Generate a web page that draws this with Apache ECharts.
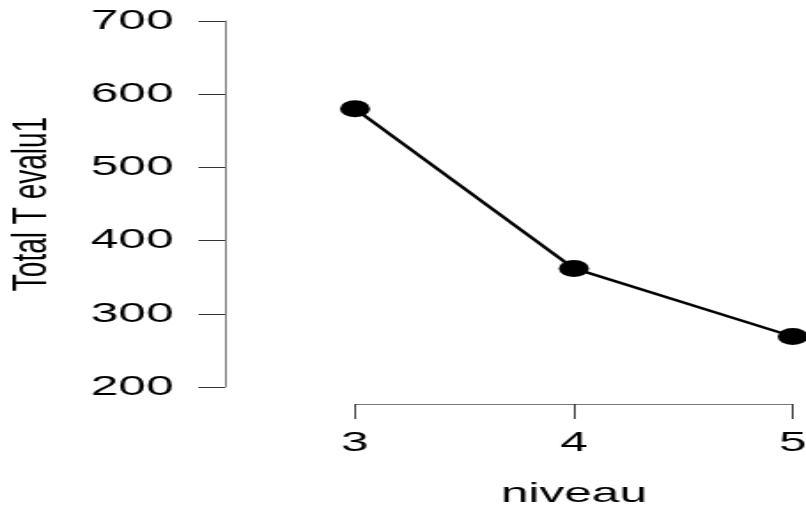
<!DOCTYPE html>
<html>
<head>
<meta charset="utf-8">
<script src="https://cdn.jsdelivr.net/npm/echarts@6/dist/echarts.min.js"></script>
<style>
html,body{margin:0;padding:0;background:#fff;overflow:hidden;}
#wrap{width:806px;height:511px;overflow:hidden;}
#c{width:455px;height:511px;transform:scaleX(1.7714);transform-origin:0 0;}
</style>
</head>
<body>
<div id="wrap"><div id="c"></div></div>
<script>
var niveau = [3, 4, 5];
var totalT = [580, 362, 269];
var yTicks = [200, 300, 400, 500, 600, 700];

var chart = echarts.init(document.getElementById('c'), null, {renderer: 'canvas'});
var font = 'Liberation Sans, Arial, Helvetica, sans-serif';
chart.setOption({
  animation: false,
  grid: {left: 200.4, right: 7.5, top: 21, bottom: 124, containLabel: false, outerBoundsMode: 'none'},
  xAxis: {
    type: 'value', min: niveau[0], max: niveau[niveau.length - 1], interval: 1,
    offset: 17,
    name: 'niveau', nameLocation: 'middle', nameGap: 76,
    nameTextStyle: {fontFamily: font, fontSize: 28, color: '#000'},
    axisLine: {show: true, lineStyle: {color: '#777', width: 1}},
    axisTick: {show: true, length: 15, lineStyle: {color: '#333', width: 1}},
    axisLabel: {fontFamily: font, fontSize: 28, color: '#000', margin: 25},
    splitLine: {show: false}
  },
  yAxis: {
    type: 'value', min: yTicks[0], max: yTicks[yTicks.length - 1], interval: 100,
    offset: 73.4,
    name: 'Total T evalu1', nameLocation: 'middle', nameGap: 95,
    nameTextStyle: {fontFamily: font, fontSize: 28, color: '#000'},
    axisLine: {show: true, lineStyle: {color: '#777', width: 1}},
    axisTick: {show: true, length: 15, lineStyle: {color: '#333', width: 1}},
    axisLabel: {fontFamily: font, fontSize: 28, color: '#000', margin: 29},
    splitLine: {show: false}
  },
  series: [{
    type: 'line',
    data: niveau.map(function (x, i) { return [x, totalT[i]]; }),
    symbol: 'circle', symbolSize: 17,
    clip: false,
    lineStyle: {color: '#000', width: 2.4},
    itemStyle: {color: '#000'}
  }]
});
</script>
</body>
</html>
